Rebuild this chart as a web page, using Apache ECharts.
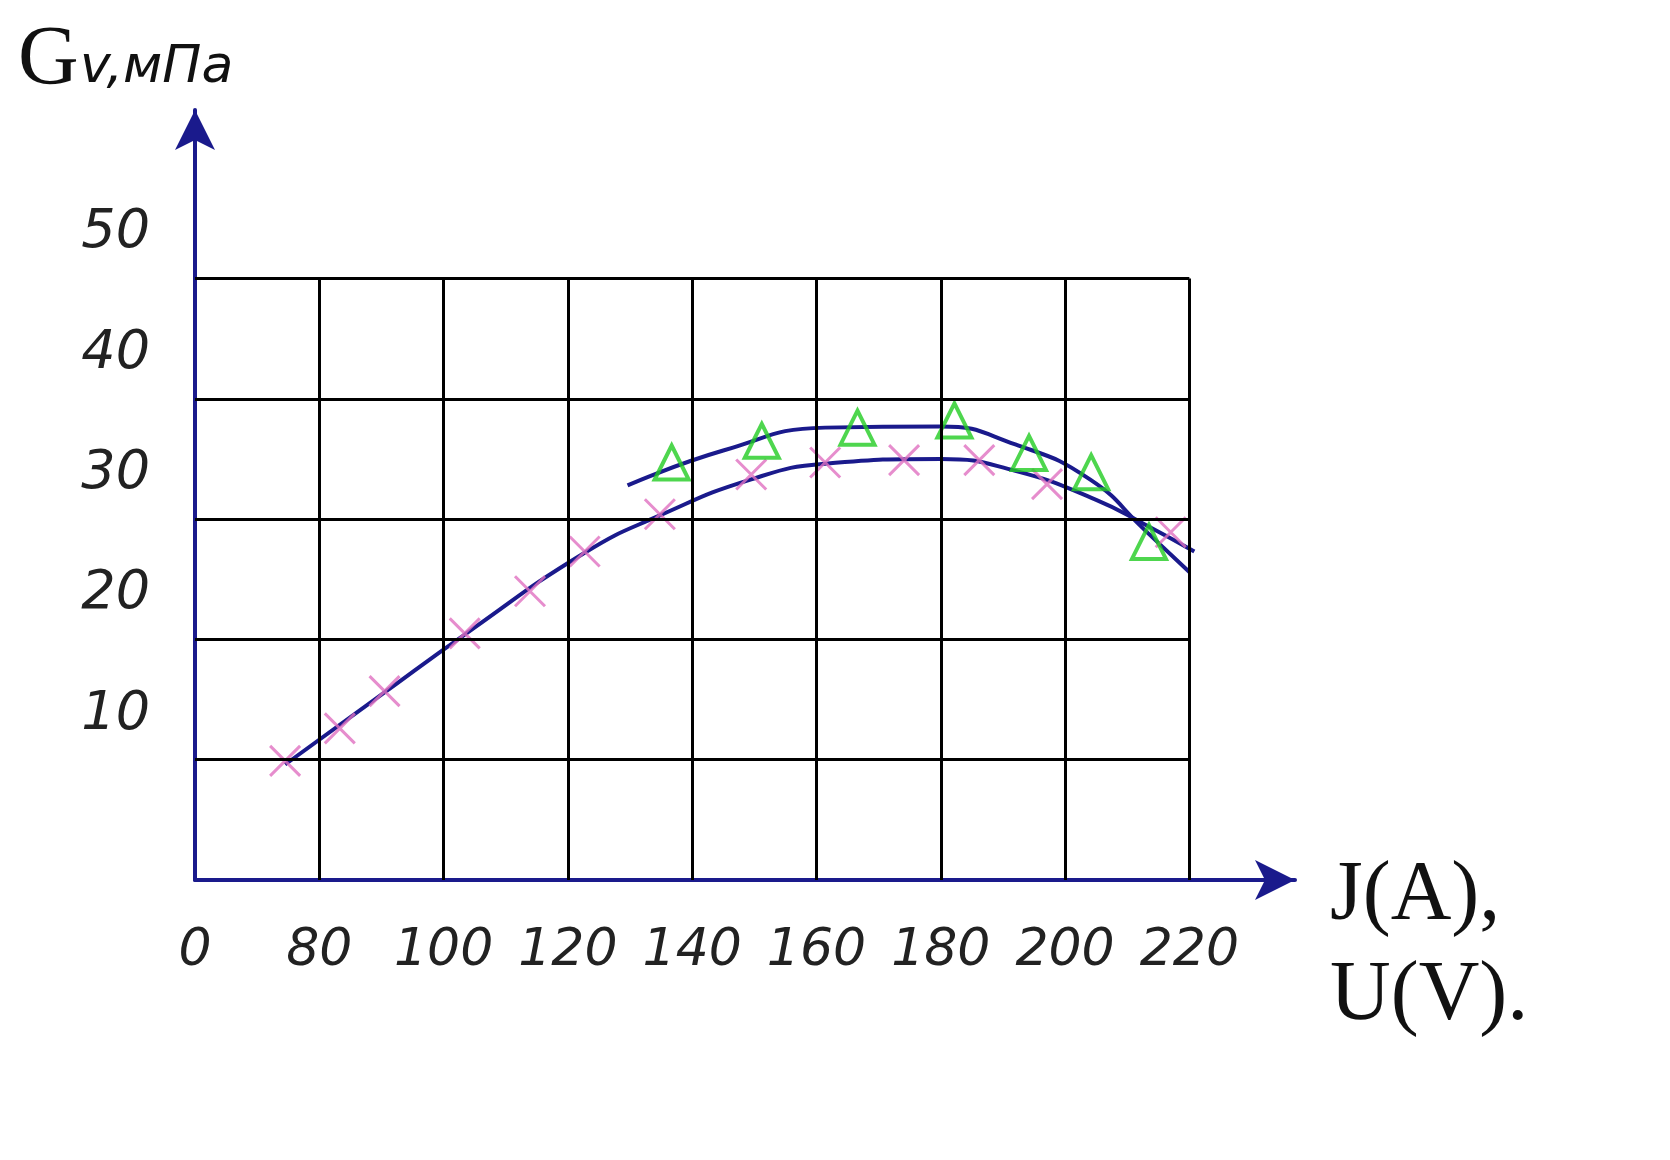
<!DOCTYPE html>
<html><head><meta charset="utf-8">
<script src="https://cdn.jsdelivr.net/npm/echarts@6/dist/echarts.min.js"></script>
<style>body{margin:0;background:#fff}#c{width:1670px;height:1160px}</style></head>
<body><div id="c"></div>
<script>
const xTicks = [60,80,100,120,140,160,180,200,220];
const yTicks = [10,20,30,40,50];
const crossPts = [[74.5,9.9],[83.3,12.6],[90.5,15.7],[103.4,20.5],[113.9,24],[122.7,27.3],[134.8,30.4],[149.5,33.7],[161.4,34.7],[174.1,34.9],[186.2,34.9],[197.1,32.9],[217,28.9]];
const triPts = [[136.7,34.7],[151.2,36.5],[166.6,37.6],[182.2,38.2],[194.2,35.5],[204.2,33.9],[213.5,28.1]];
const lowerCurve = [[74.5,9.6],[90,15.4],[103.4,20.4],[122.7,27.2],[134.8,30.3],[149.5,33.3],[161.4,34.6],[180,35],[192,34],[205,31.6],[213,29.5],[220.8,27.3]];
const upperCurve = [[129.6,32.8],[145,35.7],[161.4,37.6],[180,37.7],[192,36.2],[204,33.3],[213,29],[220,25.6]];

const gridLines = [];
yTicks.forEach(v=>gridLines.push([{coord:[60,v]},{coord:[220,v]}]));
xTicks.slice(1).forEach(v=>gridLines.push([{coord:[v,0]},{coord:[v,50]}]));

const navy = '#1a1a8c';
const chart = echarts.init(document.getElementById('c'));
chart.setOption({
  animation:false,
  grid:{left:195,right:375,top:110,bottom:280},
  xAxis:{type:'value',min:60,max:237,interval:20,
    axisLine:{lineStyle:{color:navy,width:4},symbol:['none','arrow'],symbolSize:[30,40]},
    axisTick:{show:false},splitLine:{show:false},
    axisLabel:{margin:45,color:'#222',fontSize:52,fontStyle:'italic',fontFamily:'DejaVu Sans',
      formatter:v=>v===60?'0':(v<=220?String(v):'')}},
  yAxis:{type:'value',min:0,max:64,interval:10,
    axisLine:{show:true,lineStyle:{color:navy,width:4},symbol:['none','arrow'],symbolSize:[30,40]},
    axisTick:{show:false},splitLine:{show:false},
    axisLabel:{margin:45,color:'#222',fontSize:54,fontStyle:'italic',fontFamily:'DejaVu Sans',verticalAlign:'bottom',
      padding:[0,0,18,0],
      formatter:v=>(v>0&&v<=50)?String(v):''}},
  graphic:[
    {type:'text',left:18,top:20,style:{text:'G',font:'84px "Liberation Serif"',fill:'#111'}},
    {type:'text',left:80,top:42,style:{text:'v,мПа',font:'italic 52px "DejaVu Sans"',fill:'#111'}},
    {type:'text',left:1330,top:855,style:{text:'J(A),',font:'84px "Liberation Serif"',fill:'#111'}},
    {type:'text',left:1330,top:955,style:{text:'U(V).',font:'84px "Liberation Serif"',fill:'#111'}}
  ],
  series:[
    {type:'line',data:[],silent:true,markLine:{symbol:'none',silent:true,label:{show:false},
      lineStyle:{color:'#000',width:3,type:'solid'},data:gridLines}},
    {type:'line',data:lowerCurve,smooth:true,showSymbol:false,lineStyle:{color:navy,width:4},z:3},
    {type:'line',data:upperCurve,smooth:true,showSymbol:false,lineStyle:{color:navy,width:4},z:3},
    {type:'scatter',data:crossPts,symbol:'path://M0,0L10,10M10,0L0,10',symbolSize:30,
      itemStyle:{color:'none',borderColor:'#e070c0',borderWidth:3},z:4},
    {type:'scatter',data:triPts,symbol:'triangle',symbolSize:[34,34],
      itemStyle:{color:'none',borderColor:'#22cc22',borderWidth:4},z:4}
  ]
});
</script></body></html>
